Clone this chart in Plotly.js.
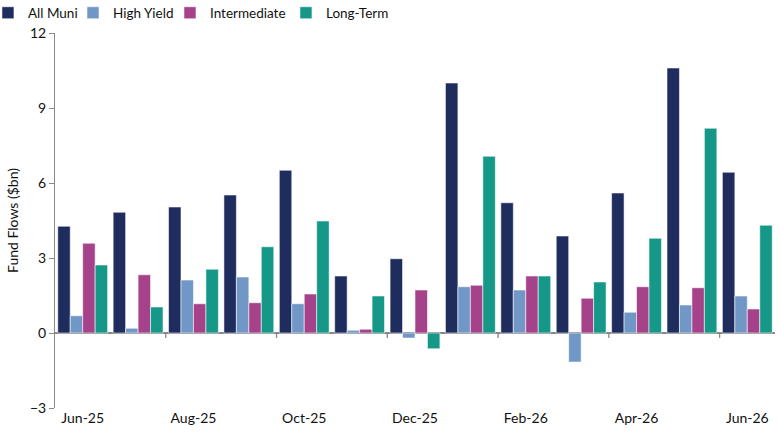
<!DOCTYPE html>
<html>
<head>
<meta charset="utf-8">
<script src="https://cdn.plot.ly/plotly-3.0.1.min.js"></script>
<style>html,body{margin:0;padding:0;background:#fff;}#chart{width:780px;height:440px;}</style>
</head>
<body>
<div id="chart"></div>
<script>
var months = ["Jun-25","Jul-25","Aug-25","Sep-25","Oct-25","Nov-25","Dec-25","Jan-26","Feb-26","Mar-26","Apr-26","May-26","Jun-26"];
var allMuni      = [4.27, 4.83, 5.04, 5.52, 6.51, 2.28, 2.97, 10.0, 5.21, 3.88, 5.60, 10.6, 6.43];
var highYield    = [0.69, 0.19, 2.12, 2.24, 1.17, 0.11, -0.20, 1.85, 1.72, -1.16, 0.83, 1.12, 1.48];
var intermediate = [3.59, 2.33, 1.17, 1.21, 1.56, 0.15, 1.72, 1.91, 2.28, 1.39, 1.85, 1.81, 0.96];
var longTerm     = [2.72, 1.04, 2.55, 3.45, 4.48, 1.48, -0.63, 7.07, 2.28, 2.04, 3.79, 8.19, 4.31];
var labelMonths = ["Jun-25","Aug-25","Oct-25","Dec-25","Feb-26","Apr-26","Jun-26"];
var yTicks = [-3, 0, 3, 6, 9, 12];

var seriesNames = ["All Muni","High Yield","Intermediate","Long-Term"];
var seriesVals = [allMuni, highYield, intermediate, longTerm];
var colors = ["#1f2d5e","#7097c5","#a6428a","#159888"];
var legendIds = ["legend","legend2","legend3","legend4"];
var legendX = [-0.0931, 0.025, 0.1597, 0.3208];

var traces = seriesNames.map(function(n,i){
  return {type:"bar", name:n, x:months, y:seriesVals[i], legend:legendIds[i],
    marker:{color:colors[i], line:{color:"rgba(255,255,255,0.55)", width:1}},
    hoverinfo:"x+y+name"};
});

// tick marks at category boundaries before each labelled month, drawn on the zero line
var shapes = labelMonths.slice(1).map(function(m){
  var idx = months.indexOf(m) - 0.5;
  return {type:"line", xref:"x", yref:"y", x0:idx, x1:idx, y0:0, y1:-0.2,
          line:{color:"#888", width:1.3}};
});

var layout = {
  width:780, height:440,
  margin:{l:55, r:5, t:33, b:32, autoexpand:false},
  paper_bgcolor:"#fff", plot_bgcolor:"#fff",
  font:{family:"Lato, 'Open Sans', sans-serif", size:14, color:"#111"},
  barmode:"group", bargap:0.1, bargroupgap:0,
  showlegend:true,
  xaxis:{type:"category", range:[-0.5,12.5], tickmode:"array", tickvals:labelMonths, ticktext:labelMonths,
         ticks:"", showline:false, showgrid:false, zeroline:false, fixedrange:true,
         tickfont:{size:14, color:"#111"}},
  yaxis:{range:[-3,12], tickmode:"array", tickvals:yTicks, ticks:"outside", ticklen:5, tickcolor:"#888",
         showline:true, linecolor:"#888", linewidth:1, showgrid:false,
         zeroline:true, zerolinecolor:"#888", zerolinewidth:1.3,
         tickfont:{size:14, color:"#111"},
         title:{text:"Fund Flows ($bn)", font:{size:14, color:"#111"}, standoff:8}},
  shapes:shapes
};
legendIds.forEach(function(id,i){
  layout[id] = {orientation:"h", xref:"paper", yref:"container",
                x:legendX[i], xanchor:"left", y:0.9705, yanchor:"middle",
                font:{size:13.5, color:"#111"}, itemwidth:30, bgcolor:"rgba(0,0,0,0)"};
});

Plotly.newPlot("chart", traces, layout, {displayModeBar:false, staticPlot:true});
</script>
</body>
</html>
